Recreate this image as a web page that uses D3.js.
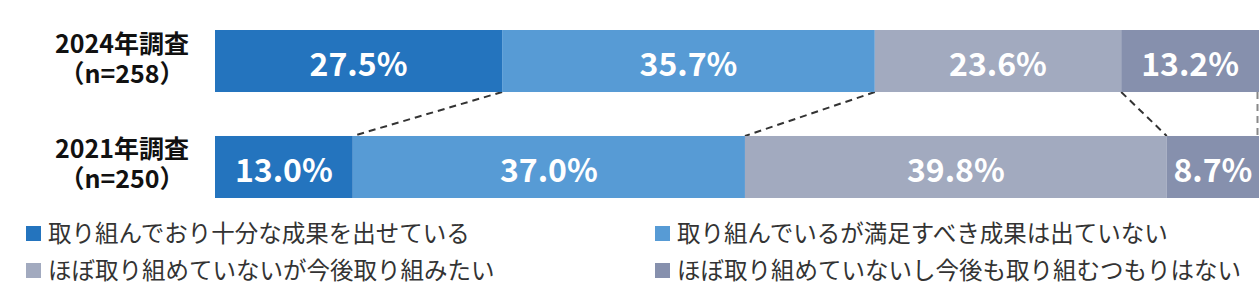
<!DOCTYPE html>
<html>
<head>
<meta charset="utf-8">
<script src="https://cdn.jsdelivr.net/npm/d3@7"></script>
<style>
  html, body { margin: 0; padding: 0; background: #fff; }
  svg { display: block; font-family: "Noto Sans CJK JP", "Noto Sans", sans-serif; }
</style>
</head>
<body>
<svg id="chart" width="1260" height="292"></svg>
<script>
// survey rows
const categories = ["2024年調査", "2021年調査"];
const sampleLabels = ["（n=258）", "（n=250）"];

// answer options, in stack order
const seriesNames = [
	"取り組んでおり十分な成果を出せている",
	"取り組んでいるが満足すべき成果は出ていない",
	"ほぼ取り組めていないが今後取り組みたい",
	"ほぼ取り組めていないし今後も取り組むつもりはない",
];
const values2024 = [27.5, 35.7, 23.6, 13.2];
const values2021 = [13.0, 37.0, 39.8, 8.7];
const seriesColors = ["#2474be", "#579bd5", "#a2aabf", "#8690ad"];

const rows = [values2024, values2021];

const svg = d3.select("#chart");

const y = d3.scaleBand().domain(categories).range([30, 198]).paddingInner(0.415);

// each row is stretched to full width (2021 sums to 98.5)
const xFor = (vals) => d3.scaleLinear().domain([0, d3.sum(vals)]).range([215, 1259]);

const stacked = rows.map((vals, i) => {
	const x = xFor(vals);
	let acc = 0;
	return vals.map((v, j) => {
		const seg = { cat: categories[i], v, j, x0: x(acc), x1: x(acc + v) };
		acc += v;
		return seg;
	});
});

// dashed connectors between rows
const upperRow = stacked[0], lowerRow = stacked[1];
const yTopEnd = y(categories[0]) + y.bandwidth();
const yBotStart = y(categories[1]);
svg.append("g").selectAll("line")
	.data(upperRow.map((s, j) => ({ xa: s.x1, xb: lowerRow[j].x1, last: j === upperRow.length - 1 })))
	.join("line")
	.attr("x1", d => d.last ? d.xa - 1.5 : d.xa)
	.attr("x2", d => d.last ? d.xb - 1.5 : d.xb)
	.attr("y1", yTopEnd)
	.attr("y2", yBotStart)
	.attr("stroke", d => d.last ? "#888" : "#333")
	.attr("stroke-width", 2)
	.attr("stroke-dasharray", "7,5");

const rowG = svg.append("g").selectAll("g")
	.data(stacked)
	.join("g");

rowG.selectAll("rect")
	.data(d => d)
	.join("rect")
	.attr("x", d => d.x0)
	.attr("y", d => y(d.cat))
	.attr("width", d => d.x1 - d.x0)
	.attr("height", y.bandwidth())
	.attr("fill", d => seriesColors[d.j]);

rowG.selectAll("text")
	.data(d => d)
	.join("text")
	.attr("x", d => (d.x0 + d.x1) / 2)
	.attr("y", d => y(d.cat) + y.bandwidth() / 2 + 15)
	.attr("text-anchor", "middle")
	.attr("fill", "#fff")
	.attr("font-size", 32)
	.attr("font-weight", 700)
	.text(d => d.v.toFixed(1) + "%");

// row labels, two lines each
const catText = svg.append("g").selectAll("text")
	.data(categories)
	.join("text")
	.attr("text-anchor", "middle")
	.attr("font-size", 25)
	.attr("font-weight", 700)
	.attr("fill", "#111");

catText.append("tspan")
	.attr("x", 122)
	.attr("y", d => y(d) + y.bandwidth() / 2 - 8.5)
	.text(d => d);

catText.append("tspan")
	.attr("x", 122)
	.attr("y", d => y(d) + y.bandwidth() / 2 + 21.5)
	.text((d, i) => sampleLabels[i]);

// legend, 2 columns x 2 rows
const legendX = [26, 655];
const legendY = [233.5, 270.5];
const leg = svg.append("g").selectAll("g")
	.data(seriesNames)
	.join("g")
	.attr("transform", (d, i) => `translate(${legendX[i % 2]},${legendY[Math.floor(i / 2)]})`);

leg.append("rect")
	.attr("x", 0)
	.attr("y", -7.5)
	.attr("width", 15)
	.attr("height", 15)
	.attr("fill", (d, i) => seriesColors[i]);

leg.append("text")
	.attr("x", 22)
	.attr("y", 8.5)
	.attr("font-size", 23.5)
	.attr("fill", "#333")
	.text(d => d);
</script>
</body>
</html>
